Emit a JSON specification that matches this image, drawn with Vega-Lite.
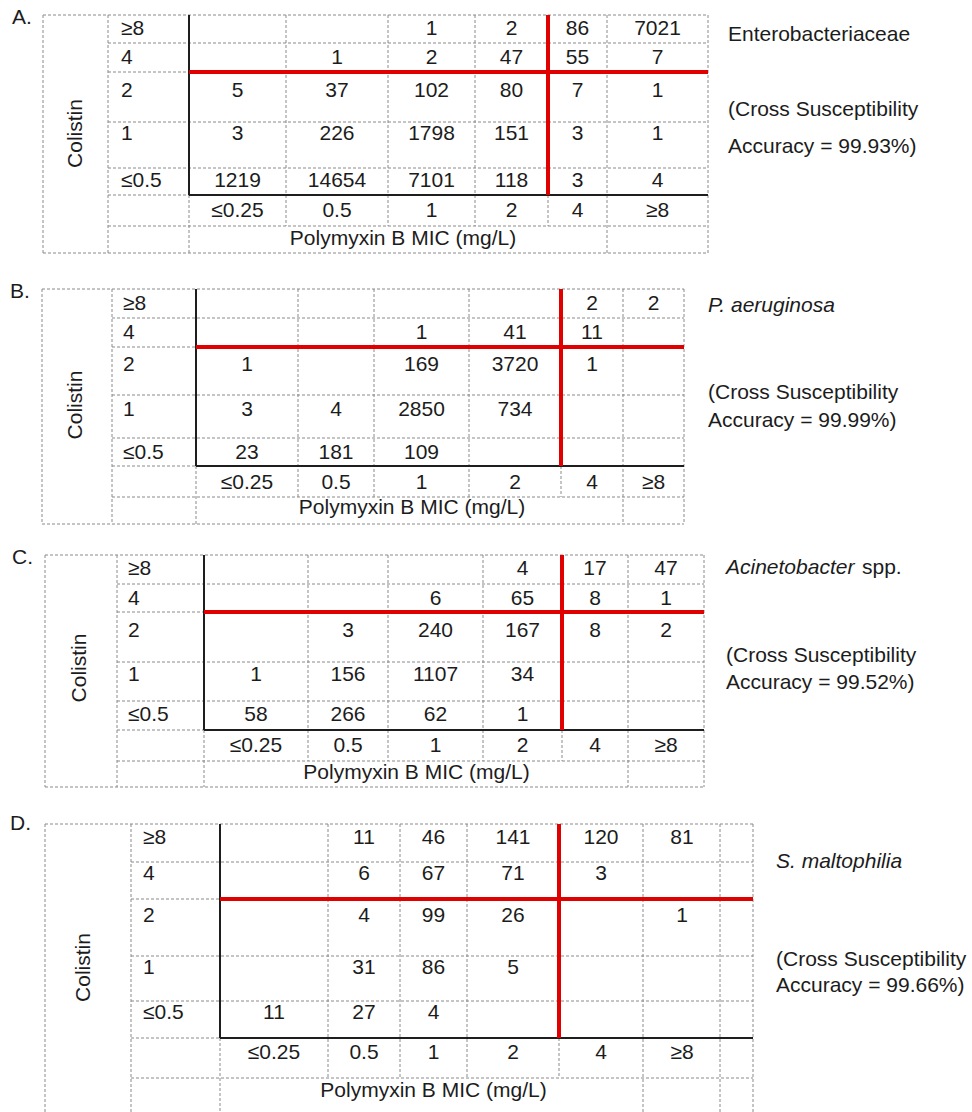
{
"$schema": "https://vega.github.io/schema/vega-lite/v6.json",
"width": 972, "height": 1112, "autosize": "none", "padding": 0, "background": "white",
"config": {"view": {"stroke": null}, "text": {"font": "Liberation Sans", "fontSize": 21, "color": "#1c1c1c"}},
"data": {"values": [
{"p":"A","k":"grid","col":-0.5,"col2":7.5,"row":-0.5,"row2":-0.5},
{"p":"A","k":"grid","col":0.5,"col2":7.5,"row":0.5,"row2":0.5},
{"p":"A","k":"grid","col":0.5,"col2":1.5,"row":1.5,"row2":1.5},
{"p":"A","k":"grid","col":0.5,"col2":7.5,"row":2.5,"row2":2.5},
{"p":"A","k":"grid","col":0.5,"col2":7.5,"row":3.5,"row2":3.5},
{"p":"A","k":"grid","col":0.5,"col2":1.5,"row":4.5,"row2":4.5},
{"p":"A","k":"grid","col":0.5,"col2":7.5,"row":5.5,"row2":5.5},
{"p":"A","k":"grid","col":-0.5,"col2":7.5,"row":6.5,"row2":6.5},
{"p":"A","k":"grid","col":-0.5,"col2":-0.5,"row":-0.5,"row2":6.5},
{"p":"A","k":"grid","col":0.5,"col2":0.5,"row":-0.5,"row2":6.5},
{"p":"A","k":"grid","col":1.5,"col2":1.5,"row":4.5,"row2":6.5},
{"p":"A","k":"grid","col":2.5,"col2":2.5,"row":-0.5,"row2":5.5},
{"p":"A","k":"grid","col":3.5,"col2":3.5,"row":-0.5,"row2":5.5},
{"p":"A","k":"grid","col":4.5,"col2":4.5,"row":-0.5,"row2":5.5},
{"p":"A","k":"grid","col":5.5,"col2":5.5,"row":4.5,"row2":5.5},
{"p":"A","k":"grid","col":6.5,"col2":6.5,"row":-0.5,"row2":6.5},
{"p":"A","k":"grid","col":7.5,"col2":7.5,"row":-0.5,"row2":6.5},
{"p":"A","k":"axis","col":1.5,"col2":1.5,"row":-0.5,"row2":4.5},
{"p":"A","k":"axis","col":1.5,"col2":7.5,"row":4.5,"row2":4.5},
{"p":"A","k":"cut","col":5.5,"col2":5.5,"row":-0.5,"row2":4.5},
{"p":"A","k":"cut","col":1.5,"col2":7.5,"row":1.5,"row2":1.5},

{"p":"B","k":"grid","col":-0.5,"col2":7.5,"row":-0.5,"row2":-0.5},
{"p":"B","k":"grid","col":0.5,"col2":7.5,"row":0.5,"row2":0.5},
{"p":"B","k":"grid","col":0.5,"col2":1.5,"row":1.5,"row2":1.5},
{"p":"B","k":"grid","col":0.5,"col2":7.5,"row":2.5,"row2":2.5},
{"p":"B","k":"grid","col":0.5,"col2":7.5,"row":3.5,"row2":3.5},
{"p":"B","k":"grid","col":0.5,"col2":1.5,"row":4.5,"row2":4.5},
{"p":"B","k":"grid","col":0.5,"col2":7.5,"row":5.5,"row2":5.5},
{"p":"B","k":"grid","col":-0.5,"col2":7.5,"row":6.5,"row2":6.5},
{"p":"B","k":"grid","col":-0.5,"col2":-0.5,"row":-0.5,"row2":6.5},
{"p":"B","k":"grid","col":0.5,"col2":0.5,"row":-0.5,"row2":6.5},
{"p":"B","k":"grid","col":1.5,"col2":1.5,"row":4.5,"row2":6.5},
{"p":"B","k":"grid","col":2.5,"col2":2.5,"row":-0.5,"row2":5.5},
{"p":"B","k":"grid","col":3.5,"col2":3.5,"row":-0.5,"row2":5.5},
{"p":"B","k":"grid","col":4.5,"col2":4.5,"row":-0.5,"row2":5.5},
{"p":"B","k":"grid","col":5.5,"col2":5.5,"row":4.5,"row2":5.5},
{"p":"B","k":"grid","col":6.5,"col2":6.5,"row":-0.5,"row2":6.5},
{"p":"B","k":"grid","col":7.5,"col2":7.5,"row":-0.5,"row2":6.5},
{"p":"B","k":"axis","col":1.5,"col2":1.5,"row":-0.5,"row2":4.5},
{"p":"B","k":"axis","col":1.5,"col2":7.5,"row":4.5,"row2":4.5},
{"p":"B","k":"cut","col":5.5,"col2":5.5,"row":-0.5,"row2":4.5},
{"p":"B","k":"cut","col":1.5,"col2":7.5,"row":1.5,"row2":1.5},

{"p":"C","k":"grid","col":-0.5,"col2":7.5,"row":-0.5,"row2":-0.5},
{"p":"C","k":"grid","col":0.5,"col2":7.5,"row":0.5,"row2":0.5},
{"p":"C","k":"grid","col":0.5,"col2":1.5,"row":1.5,"row2":1.5},
{"p":"C","k":"grid","col":0.5,"col2":7.5,"row":2.5,"row2":2.5},
{"p":"C","k":"grid","col":0.5,"col2":7.5,"row":3.5,"row2":3.5},
{"p":"C","k":"grid","col":0.5,"col2":1.5,"row":4.5,"row2":4.5},
{"p":"C","k":"grid","col":0.5,"col2":7.5,"row":5.5,"row2":5.5},
{"p":"C","k":"grid","col":-0.5,"col2":7.5,"row":6.5,"row2":6.5},
{"p":"C","k":"grid","col":-0.5,"col2":-0.5,"row":-0.5,"row2":6.5},
{"p":"C","k":"grid","col":0.5,"col2":0.5,"row":-0.5,"row2":6.5},
{"p":"C","k":"grid","col":1.5,"col2":1.5,"row":4.5,"row2":6.5},
{"p":"C","k":"grid","col":2.5,"col2":2.5,"row":-0.5,"row2":5.5},
{"p":"C","k":"grid","col":3.5,"col2":3.5,"row":-0.5,"row2":5.5},
{"p":"C","k":"grid","col":4.5,"col2":4.5,"row":-0.5,"row2":5.5},
{"p":"C","k":"grid","col":5.5,"col2":5.5,"row":4.5,"row2":5.5},
{"p":"C","k":"grid","col":6.5,"col2":6.5,"row":-0.5,"row2":6.5},
{"p":"C","k":"grid","col":7.5,"col2":7.5,"row":-0.5,"row2":6.5},
{"p":"C","k":"axis","col":1.5,"col2":1.5,"row":-0.5,"row2":4.5},
{"p":"C","k":"axis","col":1.5,"col2":7.5,"row":4.5,"row2":4.5},
{"p":"C","k":"cut","col":5.5,"col2":5.5,"row":-0.5,"row2":4.5},
{"p":"C","k":"cut","col":1.5,"col2":7.5,"row":1.5,"row2":1.5},

{"p":"D","k":"grid","col":-0.5,"col2":8.5,"row":-0.5,"row2":-0.5},
{"p":"D","k":"grid","col":0.5,"col2":8.5,"row":0.5,"row2":0.5},
{"p":"D","k":"grid","col":0.5,"col2":1.5,"row":1.5,"row2":1.5},
{"p":"D","k":"grid","col":0.5,"col2":8.5,"row":2.5,"row2":2.5},
{"p":"D","k":"grid","col":0.5,"col2":8.5,"row":3.5,"row2":3.5},
{"p":"D","k":"grid","col":0.5,"col2":1.5,"row":4.5,"row2":4.5},
{"p":"D","k":"grid","col":0.5,"col2":8.5,"row":5.5,"row2":5.5},
{"p":"D","k":"grid","col":-0.5,"col2":8.5,"row":6.5,"row2":6.5},
{"p":"D","k":"grid","col":-0.5,"col2":-0.5,"row":-0.5,"row2":6.5},
{"p":"D","k":"grid","col":0.5,"col2":0.5,"row":-0.5,"row2":6.5},
{"p":"D","k":"grid","col":1.5,"col2":1.5,"row":4.5,"row2":6.5},
{"p":"D","k":"grid","col":2.5,"col2":2.5,"row":-0.5,"row2":5.5},
{"p":"D","k":"grid","col":3.5,"col2":3.5,"row":-0.5,"row2":5.5},
{"p":"D","k":"grid","col":4.5,"col2":4.5,"row":-0.5,"row2":5.5},
{"p":"D","k":"grid","col":5.5,"col2":5.5,"row":4.5,"row2":5.5},
{"p":"D","k":"grid","col":6.5,"col2":6.5,"row":-0.5,"row2":6.5},
{"p":"D","k":"grid","col":7.5,"col2":7.5,"row":-0.5,"row2":6.5},
{"p":"D","k":"grid","col":8.5,"col2":8.5,"row":-0.5,"row2":6.5},
{"p":"D","k":"axis","col":1.5,"col2":1.5,"row":-0.5,"row2":4.5},
{"p":"D","k":"axis","col":1.5,"col2":8.5,"row":4.5,"row2":4.5},
{"p":"D","k":"cut","col":5.5,"col2":5.5,"row":-0.5,"row2":4.5},
{"p":"D","k":"cut","col":1.5,"col2":8.5,"row":1.5,"row2":1.5},

{"p":"A","k":"letter","col":-1,"row":-1,"t":"A."},
{"p":"A","k":"yname","col":0,"row":3,"t":"Colistin"},
{"p":"A","k":"rowlab","col":1,"row":0,"t":"≥8"},
{"p":"A","k":"rowlab","col":1,"row":1,"t":"4"},
{"p":"A","k":"rowlab","col":1,"row":2,"t":"2"},
{"p":"A","k":"rowlab","col":1,"row":3,"t":"1"},
{"p":"A","k":"rowlab","col":1,"row":4,"t":"≤0.5"},
{"p":"A","k":"hdr","col":2,"row":5,"t":"≤0.25"},
{"p":"A","k":"hdr","col":3,"row":5,"t":"0.5"},
{"p":"A","k":"hdr","col":4,"row":5,"t":"1"},
{"p":"A","k":"hdr","col":5,"row":5,"t":"2"},
{"p":"A","k":"hdr","col":6,"row":5,"t":"4"},
{"p":"A","k":"hdr","col":7,"row":5,"t":"≥8"},
{"p":"A","k":"title","col":4,"row":6,"t":"Polymyxin B MIC (mg/L)"},
{"p":"A","k":"note","col":9,"row":7,"t":"Enterobacteriaceae"},
{"p":"A","k":"note","col":9,"row":8,"t":"(Cross Susceptibility"},
{"p":"A","k":"note","col":9,"row":9,"t":"Accuracy = 99.93%)"},
{"p":"A","k":"cell","col":4,"row":0,"n":1},
{"p":"A","k":"cell","col":5,"row":0,"n":2},
{"p":"A","k":"cell","col":6,"row":0,"n":86},
{"p":"A","k":"cell","col":7,"row":0,"n":7021},
{"p":"A","k":"cell","col":3,"row":1,"n":1},
{"p":"A","k":"cell","col":4,"row":1,"n":2},
{"p":"A","k":"cell","col":5,"row":1,"n":47},
{"p":"A","k":"cell","col":6,"row":1,"n":55},
{"p":"A","k":"cell","col":7,"row":1,"n":7},
{"p":"A","k":"cell","col":2,"row":2,"n":5},
{"p":"A","k":"cell","col":3,"row":2,"n":37},
{"p":"A","k":"cell","col":4,"row":2,"n":102},
{"p":"A","k":"cell","col":5,"row":2,"n":80},
{"p":"A","k":"cell","col":6,"row":2,"n":7},
{"p":"A","k":"cell","col":7,"row":2,"n":1},
{"p":"A","k":"cell","col":2,"row":3,"n":3},
{"p":"A","k":"cell","col":3,"row":3,"n":226},
{"p":"A","k":"cell","col":4,"row":3,"n":1798},
{"p":"A","k":"cell","col":5,"row":3,"n":151},
{"p":"A","k":"cell","col":6,"row":3,"n":3},
{"p":"A","k":"cell","col":7,"row":3,"n":1},
{"p":"A","k":"cell","col":2,"row":4,"n":1219},
{"p":"A","k":"cell","col":3,"row":4,"n":14654},
{"p":"A","k":"cell","col":4,"row":4,"n":7101},
{"p":"A","k":"cell","col":5,"row":4,"n":118},
{"p":"A","k":"cell","col":6,"row":4,"n":3},
{"p":"A","k":"cell","col":7,"row":4,"n":4},

{"p":"B","k":"letter","col":-1,"row":-1,"t":"B."},
{"p":"B","k":"yname","col":0,"row":3,"t":"Colistin"},
{"p":"B","k":"rowlab","col":1,"row":0,"t":"≥8"},
{"p":"B","k":"rowlab","col":1,"row":1,"t":"4"},
{"p":"B","k":"rowlab","col":1,"row":2,"t":"2"},
{"p":"B","k":"rowlab","col":1,"row":3,"t":"1"},
{"p":"B","k":"rowlab","col":1,"row":4,"t":"≤0.5"},
{"p":"B","k":"hdr","col":2,"row":5,"t":"≤0.25"},
{"p":"B","k":"hdr","col":3,"row":5,"t":"0.5"},
{"p":"B","k":"hdr","col":4,"row":5,"t":"1"},
{"p":"B","k":"hdr","col":5,"row":5,"t":"2"},
{"p":"B","k":"hdr","col":6,"row":5,"t":"4"},
{"p":"B","k":"hdr","col":7,"row":5,"t":"≥8"},
{"p":"B","k":"title","col":4,"row":6,"t":"Polymyxin B MIC (mg/L)"},
{"p":"B","k":"species","col":9,"row":7,"t":"P. aeruginosa"},
{"p":"B","k":"note","col":9,"row":8,"t":"(Cross Susceptibility"},
{"p":"B","k":"note","col":9,"row":9,"t":"Accuracy = 99.99%)"},
{"p":"B","k":"cell","col":6,"row":0,"n":2},
{"p":"B","k":"cell","col":7,"row":0,"n":2},
{"p":"B","k":"cell","col":4,"row":1,"n":1},
{"p":"B","k":"cell","col":5,"row":1,"n":41},
{"p":"B","k":"cell","col":6,"row":1,"n":11},
{"p":"B","k":"cell","col":2,"row":2,"n":1},
{"p":"B","k":"cell","col":4,"row":2,"n":169},
{"p":"B","k":"cell","col":5,"row":2,"n":3720},
{"p":"B","k":"cell","col":6,"row":2,"n":1},
{"p":"B","k":"cell","col":2,"row":3,"n":3},
{"p":"B","k":"cell","col":3,"row":3,"n":4},
{"p":"B","k":"cell","col":4,"row":3,"n":2850},
{"p":"B","k":"cell","col":5,"row":3,"n":734},
{"p":"B","k":"cell","col":2,"row":4,"n":23},
{"p":"B","k":"cell","col":3,"row":4,"n":181},
{"p":"B","k":"cell","col":4,"row":4,"n":109},

{"p":"C","k":"letter","col":-1,"row":-1,"t":"C."},
{"p":"C","k":"yname","col":0,"row":3,"t":"Colistin"},
{"p":"C","k":"rowlab","col":1,"row":0,"t":"≥8"},
{"p":"C","k":"rowlab","col":1,"row":1,"t":"4"},
{"p":"C","k":"rowlab","col":1,"row":2,"t":"2"},
{"p":"C","k":"rowlab","col":1,"row":3,"t":"1"},
{"p":"C","k":"rowlab","col":1,"row":4,"t":"≤0.5"},
{"p":"C","k":"hdr","col":2,"row":5,"t":"≤0.25"},
{"p":"C","k":"hdr","col":3,"row":5,"t":"0.5"},
{"p":"C","k":"hdr","col":4,"row":5,"t":"1"},
{"p":"C","k":"hdr","col":5,"row":5,"t":"2"},
{"p":"C","k":"hdr","col":6,"row":5,"t":"4"},
{"p":"C","k":"hdr","col":7,"row":5,"t":"≥8"},
{"p":"C","k":"title","col":4,"row":6,"t":"Polymyxin B MIC (mg/L)"},
{"p":"C","k":"species","col":9,"row":7,"t":"Acinetobacter"},
{"p":"C","k":"spp","col":9,"row":7,"t":"spp."},
{"p":"C","k":"note","col":9,"row":8,"t":"(Cross Susceptibility"},
{"p":"C","k":"note","col":9,"row":9,"t":"Accuracy = 99.52%)"},
{"p":"C","k":"cell","col":5,"row":0,"n":4},
{"p":"C","k":"cell","col":6,"row":0,"n":17},
{"p":"C","k":"cell","col":7,"row":0,"n":47},
{"p":"C","k":"cell","col":4,"row":1,"n":6},
{"p":"C","k":"cell","col":5,"row":1,"n":65},
{"p":"C","k":"cell","col":6,"row":1,"n":8},
{"p":"C","k":"cell","col":7,"row":1,"n":1},
{"p":"C","k":"cell","col":3,"row":2,"n":3},
{"p":"C","k":"cell","col":4,"row":2,"n":240},
{"p":"C","k":"cell","col":5,"row":2,"n":167},
{"p":"C","k":"cell","col":6,"row":2,"n":8},
{"p":"C","k":"cell","col":7,"row":2,"n":2},
{"p":"C","k":"cell","col":2,"row":3,"n":1},
{"p":"C","k":"cell","col":3,"row":3,"n":156},
{"p":"C","k":"cell","col":4,"row":3,"n":1107},
{"p":"C","k":"cell","col":5,"row":3,"n":34},
{"p":"C","k":"cell","col":2,"row":4,"n":58},
{"p":"C","k":"cell","col":3,"row":4,"n":266},
{"p":"C","k":"cell","col":4,"row":4,"n":62},
{"p":"C","k":"cell","col":5,"row":4,"n":1},

{"p":"D","k":"letter","col":-1,"row":-1,"t":"D."},
{"p":"D","k":"yname","col":0,"row":3,"t":"Colistin"},
{"p":"D","k":"rowlab","col":1,"row":0,"t":"≥8"},
{"p":"D","k":"rowlab","col":1,"row":1,"t":"4"},
{"p":"D","k":"rowlab","col":1,"row":2,"t":"2"},
{"p":"D","k":"rowlab","col":1,"row":3,"t":"1"},
{"p":"D","k":"rowlab","col":1,"row":4,"t":"≤0.5"},
{"p":"D","k":"hdr","col":2,"row":5,"t":"≤0.25"},
{"p":"D","k":"hdr","col":3,"row":5,"t":"0.5"},
{"p":"D","k":"hdr","col":4,"row":5,"t":"1"},
{"p":"D","k":"hdr","col":5,"row":5,"t":"2"},
{"p":"D","k":"hdr","col":6,"row":5,"t":"4"},
{"p":"D","k":"hdr","col":7,"row":5,"t":"≥8"},
{"p":"D","k":"title","col":4,"row":6,"t":"Polymyxin B MIC (mg/L)"},
{"p":"D","k":"species","col":9,"row":7,"t":"S. maltophilia"},
{"p":"D","k":"note","col":9,"row":8,"t":"(Cross Susceptibility"},
{"p":"D","k":"note","col":9,"row":9,"t":"Accuracy = 99.66%)"},
{"p":"D","k":"cell","col":3,"row":0,"n":11},
{"p":"D","k":"cell","col":4,"row":0,"n":46},
{"p":"D","k":"cell","col":5,"row":0,"n":141},
{"p":"D","k":"cell","col":6,"row":0,"n":120},
{"p":"D","k":"cell","col":7,"row":0,"n":81},
{"p":"D","k":"cell","col":3,"row":1,"n":6},
{"p":"D","k":"cell","col":4,"row":1,"n":67},
{"p":"D","k":"cell","col":5,"row":1,"n":71},
{"p":"D","k":"cell","col":6,"row":1,"n":3},
{"p":"D","k":"cell","col":3,"row":2,"n":4},
{"p":"D","k":"cell","col":4,"row":2,"n":99},
{"p":"D","k":"cell","col":5,"row":2,"n":26},
{"p":"D","k":"cell","col":7,"row":2,"n":1},
{"p":"D","k":"cell","col":3,"row":3,"n":31},
{"p":"D","k":"cell","col":4,"row":3,"n":86},
{"p":"D","k":"cell","col":5,"row":3,"n":5},
{"p":"D","k":"cell","col":2,"row":4,"n":11},
{"p":"D","k":"cell","col":3,"row":4,"n":27},
{"p":"D","k":"cell","col":4,"row":4,"n":4}
]},
"resolve": {"scale": {"x": "independent", "y": "independent"}},
"layer": [
{
 "transform": [{"filter": "datum.p == 'A'"}],
 "encoding": {
  "x": {"field": "col", "type": "quantitative", "axis": null, "scale": {"domain": [-1,-0.5,0,0.5,1,1.5,2,2.5,3,3.5,4,4.5,5,5.5,6,6.5,7,7.5,9], "range": [12,43,75.5,108,121,189,237.5,286,337,388,431.5,475,511.5,548,577.5,607,657.5,708,728], "zero": false, "nice": false}},
  "y": {"field": "row", "type": "quantitative", "axis": null, "scale": {"domain": [-1,-0.5,0,0.5,1,1.5,2,2.5,3,3.5,4,4.5,5,5.5,6,6.5,7,8,9], "range": [17.5,15,28.5,43,57.5,72,90.5,122,133.5,168,180.5,195,210.5,226,238.5,253,34.5,110,147], "zero": false, "nice": false}}
 },
 "layer": [
  {"transform": [{"filter": "datum.k == 'grid'"}], "mark": {"type": "rule", "color": "#8a8a8a", "strokeWidth": 1, "strokeDash": [3,2]}, "encoding": {"x2": {"field": "col2"}, "y2": {"field": "row2"}}},
  {"transform": [{"filter": "datum.k == 'axis'"}], "mark": {"type": "rule", "color": "#1e1e1e", "strokeWidth": 2}, "encoding": {"x2": {"field": "col2"}, "y2": {"field": "row2"}}},
  {"transform": [{"filter": "datum.k == 'cut'"}], "mark": {"type": "rule", "color": "#e00000", "strokeWidth": 4}, "encoding": {"x2": {"field": "col2"}, "y2": {"field": "row2"}}},
  {"transform": [{"filter": "datum.k == 'cell'"}], "mark": {"type": "text", "align": "center", "baseline": "middle"}, "encoding": {"text": {"field": "n", "type": "quantitative", "format": "d"}}},
  {"transform": [{"filter": "datum.k == 'hdr'"}], "mark": {"type": "text", "align": "center", "baseline": "middle"}, "encoding": {"text": {"field": "t"}}},
  {"transform": [{"filter": "datum.k == 'title'"}], "mark": {"type": "text", "align": "center", "baseline": "middle", "dx": -28.5}, "encoding": {"text": {"field": "t"}}},
  {"transform": [{"filter": "datum.k == 'letter' || datum.k == 'rowlab' || datum.k == 'note'"}], "mark": {"type": "text", "align": "left", "baseline": "middle"}, "encoding": {"text": {"field": "t"}}},
  {"transform": [{"filter": "datum.k == 'species'"}], "mark": {"type": "text", "align": "left", "baseline": "middle", "fontStyle": "italic"}, "encoding": {"text": {"field": "t"}}},
  {"transform": [{"filter": "datum.k == 'yname'"}], "mark": {"type": "text", "align": "center", "baseline": "middle", "angle": 270}, "encoding": {"text": {"field": "t"}}}
 ]
},
{
 "transform": [{"filter": "datum.p == 'B'"}],
 "encoding": {
  "x": {"field": "col", "type": "quantitative", "axis": null, "scale": {"domain": [-1,-0.5,0,0.5,1,1.5,2,2.5,3,3.5,4,4.5,5,5.5,6,6.5,7,7.5,9], "range": [10,42,76,112,123,196,247,298,336,374,421.5,469,515,561,592,623,653.5,684,708], "zero": false, "nice": false}},
  "y": {"field": "row", "type": "quantitative", "axis": null, "scale": {"domain": [-1,-0.5,0,0.5,1,1.5,2,2.5,3,3.5,4,4.5,5,5.5,6,6.5,7,8,9], "range": [291.5,289,303.5,318,332.5,347,365,395,409.5,438,452.5,466,482.5,497,508,524,305.5,392.5,420.5], "zero": false, "nice": false}}
 },
 "layer": [
  {"transform": [{"filter": "datum.k == 'grid'"}], "mark": {"type": "rule", "color": "#8a8a8a", "strokeWidth": 1, "strokeDash": [3,2]}, "encoding": {"x2": {"field": "col2"}, "y2": {"field": "row2"}}},
  {"transform": [{"filter": "datum.k == 'axis'"}], "mark": {"type": "rule", "color": "#1e1e1e", "strokeWidth": 2}, "encoding": {"x2": {"field": "col2"}, "y2": {"field": "row2"}}},
  {"transform": [{"filter": "datum.k == 'cut'"}], "mark": {"type": "rule", "color": "#e00000", "strokeWidth": 4}, "encoding": {"x2": {"field": "col2"}, "y2": {"field": "row2"}}},
  {"transform": [{"filter": "datum.k == 'cell'"}], "mark": {"type": "text", "align": "center", "baseline": "middle"}, "encoding": {"text": {"field": "n", "type": "quantitative", "format": "d"}}},
  {"transform": [{"filter": "datum.k == 'hdr'"}], "mark": {"type": "text", "align": "center", "baseline": "middle"}, "encoding": {"text": {"field": "t"}}},
  {"transform": [{"filter": "datum.k == 'title'"}], "mark": {"type": "text", "align": "center", "baseline": "middle", "dx": -9.5}, "encoding": {"text": {"field": "t"}}},
  {"transform": [{"filter": "datum.k == 'letter' || datum.k == 'rowlab' || datum.k == 'note'"}], "mark": {"type": "text", "align": "left", "baseline": "middle"}, "encoding": {"text": {"field": "t"}}},
  {"transform": [{"filter": "datum.k == 'species'"}], "mark": {"type": "text", "align": "left", "baseline": "middle", "fontStyle": "italic"}, "encoding": {"text": {"field": "t"}}},
  {"transform": [{"filter": "datum.k == 'yname'"}], "mark": {"type": "text", "align": "center", "baseline": "middle", "angle": 270, "dx": 4.5}, "encoding": {"text": {"field": "t"}}}
 ]
},
{
 "transform": [{"filter": "datum.p == 'C'"}],
 "encoding": {
  "x": {"field": "col", "type": "quantitative", "axis": null, "scale": {"domain": [-1,-0.5,0,0.5,1,1.5,2,2.5,3,3.5,4,4.5,5,5.5,6,6.5,7,7.5,9], "range": [12,45,80,117,128,204,256,308,348,388,435.5,483,522.5,562,595,628,666,704,726], "zero": false, "nice": false}},
  "y": {"field": "row", "type": "quantitative", "axis": null, "scale": {"domain": [-1,-0.5,0,0.5,1,1.5,2,2.5,3,3.5,4,4.5,5,5.5,6,6.5,7,8,9], "range": [557.5,555,568.5,584,598.5,612,630.5,662,675,701,714.5,730,745.5,761,773,787,568,655.5,682.5], "zero": false, "nice": false}}
 },
 "layer": [
  {"transform": [{"filter": "datum.k == 'grid'"}], "mark": {"type": "rule", "color": "#8a8a8a", "strokeWidth": 1, "strokeDash": [3,2]}, "encoding": {"x2": {"field": "col2"}, "y2": {"field": "row2"}}},
  {"transform": [{"filter": "datum.k == 'axis'"}], "mark": {"type": "rule", "color": "#1e1e1e", "strokeWidth": 2}, "encoding": {"x2": {"field": "col2"}, "y2": {"field": "row2"}}},
  {"transform": [{"filter": "datum.k == 'cut'"}], "mark": {"type": "rule", "color": "#e00000", "strokeWidth": 4}, "encoding": {"x2": {"field": "col2"}, "y2": {"field": "row2"}}},
  {"transform": [{"filter": "datum.k == 'cell'"}], "mark": {"type": "text", "align": "center", "baseline": "middle"}, "encoding": {"text": {"field": "n", "type": "quantitative", "format": "d"}}},
  {"transform": [{"filter": "datum.k == 'hdr'"}], "mark": {"type": "text", "align": "center", "baseline": "middle"}, "encoding": {"text": {"field": "t"}}},
  {"transform": [{"filter": "datum.k == 'title'"}], "mark": {"type": "text", "align": "center", "baseline": "middle", "dx": -19}, "encoding": {"text": {"field": "t"}}},
  {"transform": [{"filter": "datum.k == 'letter' || datum.k == 'rowlab' || datum.k == 'note'"}], "mark": {"type": "text", "align": "left", "baseline": "middle"}, "encoding": {"text": {"field": "t"}}},
  {"transform": [{"filter": "datum.k == 'species'"}], "mark": {"type": "text", "align": "left", "baseline": "middle", "fontStyle": "italic"}, "encoding": {"text": {"field": "t"}}},
  {"transform": [{"filter": "datum.k == 'spp'"}], "mark": {"type": "text", "align": "left", "baseline": "middle", "dx": 136}, "encoding": {"text": {"field": "t"}}},
  {"transform": [{"filter": "datum.k == 'yname'"}], "mark": {"type": "text", "align": "center", "baseline": "middle", "angle": 270, "dx": 7}, "encoding": {"text": {"field": "t"}}}
 ]
},
{
 "transform": [{"filter": "datum.p == 'D'"}],
 "encoding": {
  "x": {"field": "col", "type": "quantitative", "axis": null, "scale": {"domain": [-1,-0.5,0,0.5,1,1.5,2,2.5,3,3.5,4,4.5,5,5.5,6,6.5,7,7.5,8,8.5,9], "range": [10,45,84,131,143,220,274,328,364,400,433.5,467,513,559,601,643,682,720,736.5,753,776], "zero": false, "nice": false}},
  "y": {"field": "row", "type": "quantitative", "axis": null, "scale": {"domain": [-1,-0.5,0,0.5,1,1.5,2,2.5,3,3.5,4,4.5,5,5.5,6,6.5,7,8,9], "range": [823.5,824,837.5,862,873.5,899,915.5,956,967.5,1001,1012.5,1038,1052.5,1078,1091,1114,861.5,960,986], "zero": false, "nice": false}}
 },
 "layer": [
  {"transform": [{"filter": "datum.k == 'grid'"}], "mark": {"type": "rule", "color": "#8a8a8a", "strokeWidth": 1, "strokeDash": [3,2]}, "encoding": {"x2": {"field": "col2"}, "y2": {"field": "row2"}}},
  {"transform": [{"filter": "datum.k == 'axis'"}], "mark": {"type": "rule", "color": "#1e1e1e", "strokeWidth": 2}, "encoding": {"x2": {"field": "col2"}, "y2": {"field": "row2"}}},
  {"transform": [{"filter": "datum.k == 'cut'"}], "mark": {"type": "rule", "color": "#e00000", "strokeWidth": 4}, "encoding": {"x2": {"field": "col2"}, "y2": {"field": "row2"}}},
  {"transform": [{"filter": "datum.k == 'cell'"}], "mark": {"type": "text", "align": "center", "baseline": "middle"}, "encoding": {"text": {"field": "n", "type": "quantitative", "format": "d"}}},
  {"transform": [{"filter": "datum.k == 'hdr'"}], "mark": {"type": "text", "align": "center", "baseline": "middle"}, "encoding": {"text": {"field": "t"}}},
  {"transform": [{"filter": "datum.k == 'title'"}], "mark": {"type": "text", "align": "center", "baseline": "middle", "dx": 0}, "encoding": {"text": {"field": "t"}}},
  {"transform": [{"filter": "datum.k == 'letter' || datum.k == 'rowlab' || datum.k == 'note'"}], "mark": {"type": "text", "align": "left", "baseline": "middle"}, "encoding": {"text": {"field": "t"}}},
  {"transform": [{"filter": "datum.k == 'species'"}], "mark": {"type": "text", "align": "left", "baseline": "middle", "fontStyle": "italic"}, "encoding": {"text": {"field": "t"}}},
  {"transform": [{"filter": "datum.k == 'yname'"}], "mark": {"type": "text", "align": "center", "baseline": "middle", "angle": 270}, "encoding": {"text": {"field": "t"}}}
 ]
}
]
}
